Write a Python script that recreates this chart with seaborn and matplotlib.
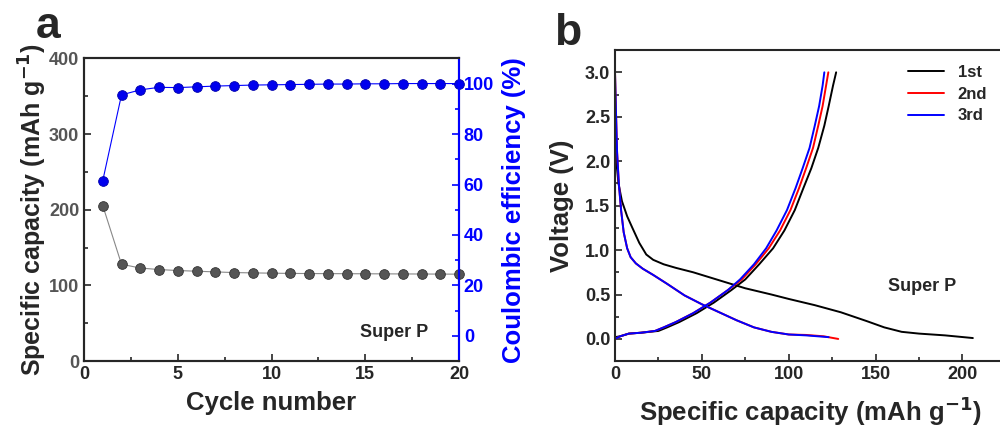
import numpy as np
import pandas as pd
import matplotlib
matplotlib.use("Agg")
import matplotlib.pyplot as plt
from matplotlib.ticker import MultipleLocator
import seaborn as sns

# ---- panel a: cycling ----
cycles = list(range(1, 21))
capacity = [205.5, 128, 123, 121, 119.7, 118.8, 117.9, 117, 116.6, 116.2,
            115.9, 115.7, 115.6, 115.5, 115.4, 115.3, 115.2, 115.1, 115.0, 114.9]
ce = [61.5, 95.5, 97.5, 98.5, 98.4, 98.7, 99.0, 99.2, 99.4, 99.5,
      99.6, 99.7, 99.8, 99.8, 99.9, 99.9, 100, 100, 100, 100]

# ---- panel b: voltage profiles ----
dis1_cap = [0, 1, 2, 4, 7, 10, 14, 18, 22, 28, 35, 45, 55, 65, 75, 90, 100,
            115, 130, 145, 155, 165, 175, 190, 206]
dis1_v = [2.25, 1.95, 1.75, 1.55, 1.38, 1.25, 1.08, 0.95, 0.89, 0.84, 0.80, 0.75,
          0.69, 0.63, 0.57, 0.50, 0.45, 0.38, 0.30, 0.20, 0.13, 0.08, 0.06, 0.04, 0.01]
dis2_cap = [0, 0.5, 1.2, 2.2, 3.5, 5, 7, 9, 12, 16, 22, 30, 40, 50, 60, 70, 80,
            90, 100, 110, 120, 128.5]
dis2_v = [3.0, 2.6, 2.1, 1.75, 1.45, 1.2, 1.02, 0.92, 0.85, 0.79, 0.72, 0.62, 0.49,
          0.39, 0.30, 0.21, 0.13, 0.08, 0.05, 0.045, 0.03, 0.0]
dis3_cap = [0, 0.5, 1.2, 2.2, 3.5, 5, 7, 9, 12, 16, 22, 30, 40, 50, 60, 70, 80,
            90, 100, 110, 123]
dis3_v = [3.0, 2.6, 2.1, 1.75, 1.45, 1.2, 1.02, 0.92, 0.85, 0.79, 0.72, 0.62, 0.49,
          0.39, 0.30, 0.21, 0.13, 0.08, 0.05, 0.04, 0.02]
chg_v = [0.0, 0.03, 0.06, 0.07, 0.09, 0.13, 0.19, 0.29, 0.41, 0.55, 0.67, 0.84,
         1.02, 1.22, 1.45, 1.7, 1.92, 2.15, 2.4, 2.62, 2.85, 3.0]
chg1_v = [0.02] + chg_v[1:]
chg1_cap = [0, 3, 8, 15, 25, 30, 37, 47, 57, 67, 75, 83, 91, 97.5, 103.5, 108.5,
            113, 117, 120.5, 123, 125.5, 127.3]
chg2_cap = [0, 3, 8, 15, 23, 28, 35, 45, 55, 65, 73, 81, 88.5, 95, 101, 106,
            110, 114, 117, 119.5, 121.5, 122.8]
chg3_cap = [0, 3, 8, 15, 23, 28, 35, 45, 55, 65, 72, 80, 87, 93, 99, 104,
            108, 112, 115, 117.5, 119.5, 120.5]

sns.set_theme(style="ticks")
plt.rcParams['font.family'] = ['Liberation Sans', 'DejaVu Sans']
plt.rcParams['font.weight'] = 'bold'
plt.rcParams['axes.labelweight'] = 'bold'
plt.rcParams['xtick.direction'] = 'in'
plt.rcParams['ytick.direction'] = 'in'
plt.rcParams['axes.linewidth'] = 1.5

fig = plt.figure(figsize=(10, 4.32), dpi=100)
ax1 = fig.add_axes([0.084, 0.164, 0.375, 0.701])
ax2 = ax1.twinx()
ax3 = fig.add_axes([0.615, 0.164, 0.39, 0.72])

df_a = pd.DataFrame({"cycle": cycles, "capacity": capacity, "ce": ce})
sns.lineplot(data=df_a, x="cycle", y="capacity", ax=ax1, color="#888888", lw=0.8,
             marker="o", markersize=7, markerfacecolor="#555555",
             markeredgecolor="#333333", markeredgewidth=0.6, clip_on=False)
sns.lineplot(data=df_a, x="cycle", y="ce", ax=ax2, color="#0000ff", lw=0.8,
             marker="o", markersize=7, markerfacecolor="#0000ee",
             markeredgecolor="#0000aa", markeredgewidth=0.6, clip_on=False)

ax1.set_xlim(0, 20)
ax1.set_ylim(0, 400)
ax2.set_ylim(-10, 110)
ax1.xaxis.set_major_locator(MultipleLocator(5))
ax1.xaxis.set_minor_locator(MultipleLocator(2.5))
ax1.yaxis.set_major_locator(MultipleLocator(100))
ax1.yaxis.set_minor_locator(MultipleLocator(50))
ax2.set_yticks([0, 20, 40, 60, 80, 100])
ax2.yaxis.set_minor_locator(MultipleLocator(10))

ax1.set_xlabel("Cycle number", fontsize=18.5, labelpad=6)
ax1.set_ylabel("Specific capacity (mAh g$^{\\mathbf{-1}}$)", fontsize=18, labelpad=0)
ax2.set_ylabel("Coulombic efficiency (%)", fontsize=18.5, color="#0000ff", labelpad=6)
ax1.tick_params(axis="both", which="major", length=5, width=1.2, labelsize=13)
ax1.tick_params(axis="both", which="minor", length=3, width=1.2)
ax1.tick_params(axis="y", labelcolor="#555555")
ax2.tick_params(axis="y", which="major", length=5, width=1.2, labelsize=13,
                colors="#0000ff")
ax2.tick_params(axis="y", which="minor", length=3, width=1.2, colors="#0000ff")
ax2.spines["right"].set_color("#0000ff")
for lab in ax1.get_xticklabels() + ax1.get_yticklabels() + ax2.get_yticklabels():
    lab.set_fontweight("bold")
ax1.text(0.917, 0.08, "Super P", transform=ax1.transAxes, ha="right",
         fontsize=13, fontweight="bold")

# panel b
curves = [(dis1_cap, dis1_v, "black", "1st"), (chg1_cap, chg1_v, "black", None),
          (dis2_cap, dis2_v, "red", "2nd"), (chg2_cap, chg_v, "red", None),
          (dis3_cap, dis3_v, "blue", "3rd"), (chg3_cap, chg_v, "blue", None)]
for xs, ys, c, lab in curves:
    sns.lineplot(x=xs, y=ys, ax=ax3, color=c, lw=1.4, sort=False, label=lab,
                 estimator=None)

ax3.set_xlim(0, 224.5)
ax3.set_ylim(-0.25, 3.25)
ax3.set_xticks([0, 50, 100, 150, 200])
ax3.xaxis.set_minor_locator(MultipleLocator(25))
ax3.yaxis.set_major_locator(MultipleLocator(0.5))
ax3.yaxis.set_minor_locator(MultipleLocator(0.25))
ax3.yaxis.set_major_formatter(matplotlib.ticker.FormatStrFormatter("%.1f"))
ax3.tick_params(axis="both", which="major", length=5, width=1.2, labelsize=13)
ax3.tick_params(axis="both", which="minor", length=3, width=1.2)
for lab in ax3.get_xticklabels() + ax3.get_yticklabels():
    lab.set_fontweight("bold")
ax3.set_xlabel("Specific capacity (mAh g$^{\\mathbf{-1}}$)", fontsize=18.5, labelpad=8)
ax3.set_ylabel("Voltage (V)", fontsize=18.5, labelpad=8)
ax3.text(0.70, 0.225, "Super P", transform=ax3.transAxes, fontsize=13,
         fontweight="bold")
ax3.legend(loc="upper right", bbox_to_anchor=(0.993, 1.0), frameon=False,
           handlelength=2.2, labelspacing=0.4,
           prop={"weight": "bold", "size": 12})

fig.text(0.036, 0.912, "a", fontsize=32, fontweight="bold")
fig.text(0.554, 0.895, "b", fontsize=32, fontweight="bold")

fig.savefig("out.png", dpi=100)
